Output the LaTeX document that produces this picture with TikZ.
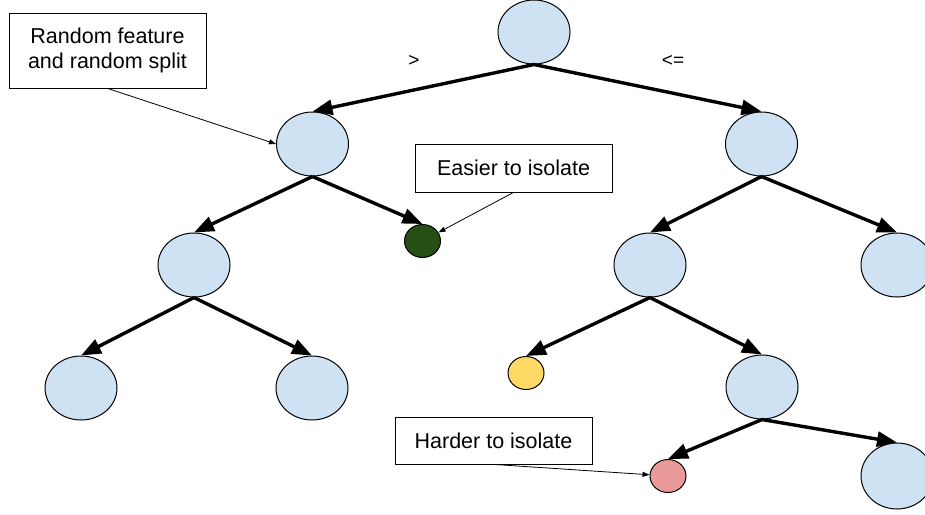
\documentclass[tikz,border=0pt]{standalone}
\usepackage{fontspec}
\setmainfont{Liberation Sans}
\usetikzlibrary{shapes.geometric,arrows.meta}
\definecolor{nodeblue}{HTML}{CFE2F3}
\definecolor{leafgreen}{HTML}{274E13}
\definecolor{leafyellow}{HTML}{FFD966}
\definecolor{leafpink}{HTML}{EA9999}
\tikzset{
  treenode/.style={ellipse, draw=black, line width=1pt, fill=nodeblue,
    minimum width=72pt, minimum height=64pt, inner sep=0pt},
  smallleaf/.style={ellipse, draw=black, line width=1pt,
    minimum width=36pt, minimum height=33pt, inner sep=0pt},
  branch/.style={line width=3.4pt, -{Triangle[length=20pt,width=15pt]}, shorten >=0pt},
  note/.style={draw=black, line width=0.8pt, fill=white, inner sep=0pt,
    minimum width=197pt, align=center, font=\fontsize{21.5}{24.5}\selectfont},
  pointer/.style={line width=0.8pt, -{Triangle[length=7pt,width=5pt]}},
  cmp/.style={font=\fontsize{19}{22}\selectfont}
}
\begin{document}
\begin{tikzpicture}[x=1pt,y=-1pt]
\useasboundingbox (0,0) rectangle (925,514);
\clip (0,0) rectangle (925,514);

% tree nodes
\node[treenode] (root) at (534,32) {};
\node[treenode] (a) at (312.5,144) {};
\node[treenode] (b) at (761.5,144) {};
\node[treenode] (aa) at (194,265) {};
\node[smallleaf, fill=leafgreen] (ab) at (422.5,241) {};
\node[treenode] (ba) at (650,265) {};
\node[treenode] (bb) at (897,265) {};
\node[treenode] (aaa) at (81,388) {};
\node[treenode] (aab) at (312,388) {};
\node[smallleaf, fill=leafyellow] (baa) at (526,373) {};
\node[treenode] (bab) at (762,387) {};
\node[smallleaf, fill=leafpink] (baba) at (668,476) {};
\node[treenode, minimum height=66pt] (babb) at (897,476) {};

% split branches
\draw[branch] (root.south) -- (a.north);
\draw[branch] (root.south) -- (b.north);
\draw[branch] (a.south) -- (aa.north);
\draw[branch] (a.south) -- (ab.north);
\draw[branch] (b.south) -- (ba.north);
\draw[branch] (b.south) -- (bb.north);
\draw[branch] (aa.south) -- (aaa.north);
\draw[branch] (aa.south) -- (aab.north);
\draw[branch] (ba.south) -- (baa.north);
\draw[branch] (ba.south) -- (bab.north);
\draw[branch] (bab.south) -- (baba.north);
\draw[branch] (bab.south) -- (babb.north);

% comparison labels
\node[cmp] (gt) at (414,61) {>};
\node[cmp] (le) at (673,61) {<=};

% annotations
\node[note, minimum height=75pt] (split) at (107.5,50.5) {Random feature\\and random split};
\node[note, minimum height=48pt] (easy) at (513.5,168) {Easier to isolate};
\node[note, minimum height=47pt] (hard) at (493.5,440.5) {Harder to isolate};

\draw[pointer] (split.south) -- (a.west);
\draw[pointer] (easy.south) -- (ab);
\draw[pointer] (hard.south) -- (baba);
\end{tikzpicture}
\end{document}
